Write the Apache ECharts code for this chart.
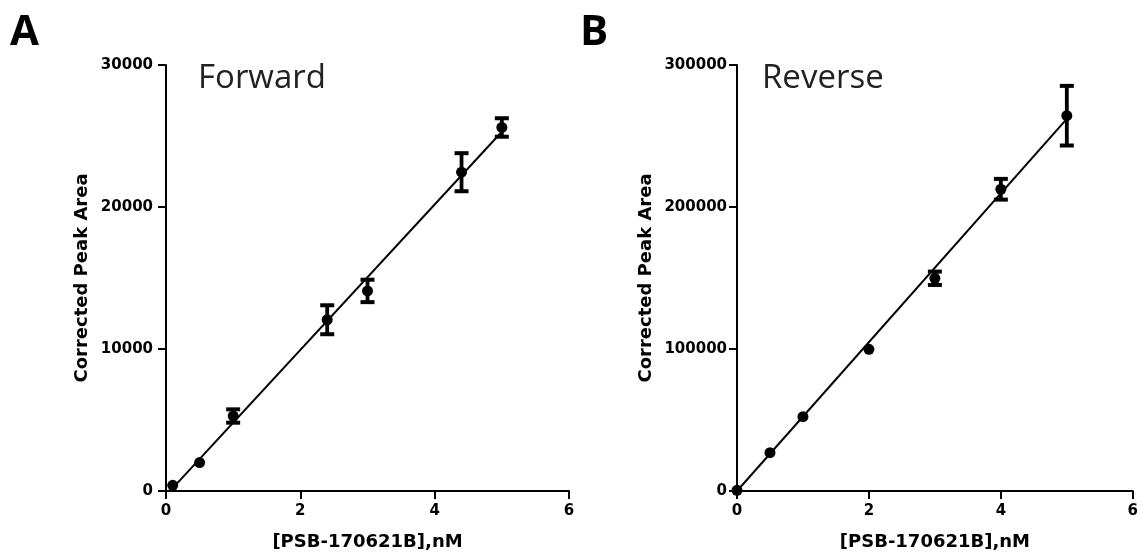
<!DOCTYPE html>
<html>
<head>
<meta charset="utf-8">
<script src="https://cdn.jsdelivr.net/npm/echarts@6/dist/echarts.min.js"></script>
<style>
html,body{margin:0;padding:0;background:#fff;}
#c{width:1141px;height:556px;}
</style>
</head>
<body>
<div id="c"></div>
<script>
// ---- data ----
const xTicks = [0, 2, 4, 6];
const fwdTicks = [0, 10000, 20000, 30000];
const revTicks = [0, 100000, 200000, 300000];

const fwdX   = [0.1, 0.5, 1, 2.4, 3, 4.4, 5];
const fwdY   = [400, 2000, 5280, 12060, 14090, 22450, 25600];
const fwdErr = [0, 0, 470, 1020, 790, 1340, 650];
const fwdFitX = [0.1, 5];
const fwdFitY = [200, 25300];

const revX   = [0, 0.5, 1, 2, 3, 4, 5];
const revY   = [500, 27000, 52300, 99800, 149800, 212500, 264300];
const revErr = [0, 0, 0, 0, 4700, 7300, 21000];
const revFitX = [0, 5];
const revFitY = [0, 262000];

const panelLetters = ['A', 'B'];
const panelTitles = ['Forward', 'Reverse'];
const xName = '[PSB-170621B],nM';
const yName = 'Corrected Peak Area';

// ---- build ----
const zip = (a, b, c) => a.map((v, i) => c ? [v, b[i], c[i]] : [v, b[i]]);

const tickFont = {fontFamily: 'DejaVu Sans', fontWeight: 'bold', fontSize: 15, color: '#000'};
const nameFont = {fontFamily: 'DejaVu Sans', fontWeight: 'bold', fontSize: 18, color: '#000'};
const plain = v => String(v);

function xAxis(gi) {
  return {
    type: 'value', gridIndex: gi, min: xTicks[0], max: xTicks[xTicks.length - 1],
    interval: xTicks[1] - xTicks[0],
    name: xName, nameLocation: 'middle', nameGap: 42, nameTextStyle: nameFont,
    axisLine: {show: true, onZero: false, lineStyle: {color: '#000', width: 2}},
    axisTick: {show: true, length: 8, lineStyle: {color: '#000', width: 2}},
    axisLabel: Object.assign({margin: 13, formatter: plain}, tickFont),
    splitLine: {show: false}
  };
}
function yAxis(gi, ticks, gap, margin) {
  return {
    type: 'value', gridIndex: gi, min: ticks[0], max: ticks[ticks.length - 1],
    interval: ticks[1] - ticks[0],
    name: yName, nameLocation: 'middle', nameGap: gap, nameTextStyle: nameFont,
    axisLine: {show: true, onZero: false, lineStyle: {color: '#000', width: 2}},
    axisTick: {show: true, length: 8, lineStyle: {color: '#000', width: 2}},
    axisLabel: Object.assign({margin: margin, formatter: plain}, tickFont),
    splitLine: {show: false}
  };
}

function errSeries(i, data) {
  return {
    type: 'custom', xAxisIndex: i, yAxisIndex: i, data: data, z: 3,
    renderItem: function (params, api) {
      const x = api.value(0), y = api.value(1), e = api.value(2);
      if (!e) return null;
      const t = api.coord([x, y + e]);
      const b = api.coord([x, y - e]);
      const hw = 7;
      const st = {stroke: '#000', lineWidth: 3.8};
      const cs = {stroke: '#000', lineWidth: 4};
      return {
        type: 'group',
        children: [
          {type: 'line', shape: {x1: t[0], y1: t[1], x2: b[0], y2: b[1]}, style: st},
          {type: 'line', shape: {x1: t[0] - hw, y1: t[1], x2: t[0] + hw, y2: t[1]}, style: cs},
          {type: 'line', shape: {x1: b[0] - hw, y1: b[1], x2: b[0] + hw, y2: b[1]}, style: cs}
        ]
      };
    }
  };
}

function pointSeries(i, data) {
  return {
    type: 'scatter', xAxisIndex: i, yAxisIndex: i, data: data, symbol: 'circle',
    symbolSize: 11, itemStyle: {color: '#000', opacity: 1}, z: 4, clip: false
  };
}
function fitSeries(i, data) {
  return {
    type: 'line', xAxisIndex: i, yAxisIndex: i, data: data, symbol: 'none',
    lineStyle: {color: '#000', width: 2}, z: 2, clip: false
  };
}

const chart = echarts.init(document.getElementById('c'), null, {renderer: 'canvas'});
chart.setOption({
  backgroundColor: '#fff',
  animation: false,
  grid: [
    {left: 166, top: 65, width: 403, height: 427},
    {left: 737, top: 65, width: 396, height: 426}
  ],
  xAxis: [xAxis(0), xAxis(1)],
  yAxis: [yAxis(0, fwdTicks, 75, 13), yAxis(1, revTicks, 82, 10)],
  graphic: [
    {type: 'text', left: 10, top: 12, style: {text: panelLetters[0], fontFamily: 'Open Sans', fontWeight: 'bold', fontSize: 42, fill: '#000'}},
    {type: 'text', left: 580, top: 12, style: {text: panelLetters[1], fontFamily: 'Open Sans', fontWeight: 'bold', fontSize: 42, fill: '#000'}},
    {type: 'text', left: 198, top: 62, style: {text: panelTitles[0], fontFamily: 'Open Sans', fontSize: 33, fill: '#222'}},
    {type: 'text', left: 762, top: 62, style: {text: panelTitles[1], fontFamily: 'Open Sans', fontSize: 33, fill: '#222'}}
  ],
  series: [
    fitSeries(0, zip(fwdFitX, fwdFitY)),
    errSeries(0, zip(fwdX, fwdY, fwdErr)),
    pointSeries(0, zip(fwdX, fwdY)),
    fitSeries(1, zip(revFitX, revFitY)),
    errSeries(1, zip(revX, revY, revErr)),
    pointSeries(1, zip(revX, revY))
  ]
});
</script>
</body>
</html>
